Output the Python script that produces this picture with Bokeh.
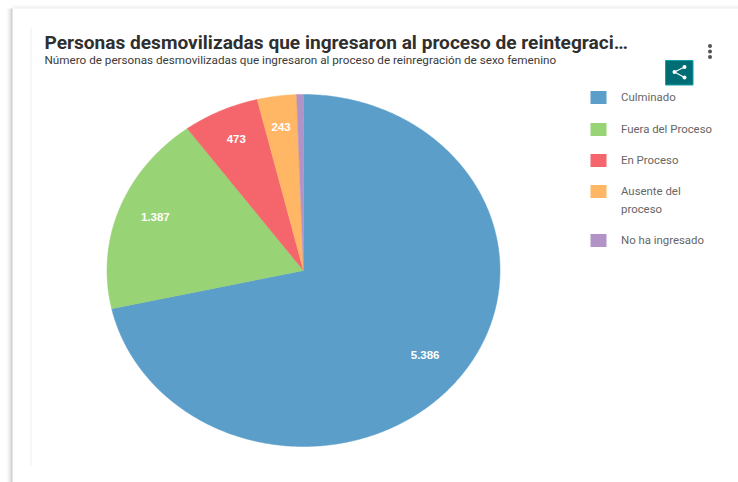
import math
from bokeh.plotting import figure
from bokeh.embed import file_html
from bokeh.resources import INLINE
from bokeh.core.properties import value

categories = ["Culminado", "Fuera del Proceso", "En Proceso", "Ausente del proceso", "No ha ingresado"]
values = [5386, 1387, 473, 243, 42]
labels = ["5.386", "1.387", "473", "243", ""]
colors = ["#5b9ec9", "#98d375", "#f4666b", "#ffb765", "#b293c8"]
legend_lines = [["Culminado"], ["Fuera del Proceso"], ["En Proceso"], ["Ausente del", "proceso"], ["No ha ingresado"]]
legend_y = [97, 129, 160, 191, 240]
title = "Personas desmovilizadas que ingresaron al proceso de reintegraci…"
subtitle = "Número de personas desmovilizadas que ingresaron al proceso de reinregración de sexo femenino"

W, H = 738, 482
p = figure(width=W, height=H, x_range=(0, W), y_range=(H, 0),
           output_backend="svg", toolbar_location=None, min_border=0,
           x_axis_type="linear", background_fill_color="white", border_fill_color="white")
p.axis.visible = False
p.grid.visible = False
p.outline_line_color = None

# card shadow
for i, a in enumerate([0.02, 0.03, 0.04, 0.05, 0.07, 0.10]):
    p.quad(left=[6 + i], right=[12], top=[8], bottom=[482], fill_color="#555555", fill_alpha=a, line_color=None)
for i, a in enumerate([0.015, 0.02, 0.025, 0.03]):
    p.quad(left=[12], right=[738], top=[4 + i], bottom=[8], fill_color="#555555", fill_alpha=a, line_color=None)
p.segment(x0=[30.5], y0=[27], x1=[30.5], y1=[465], line_color="#eeeeee", line_width=1)

# pie
cx, cy, rx, ry = 303, 270, 196.5, 176
total = sum(values)
start = 0.0
for v, c, lab in zip(values, colors, labels):
    end = start + v / total * 2 * math.pi
    n = max(int((end - start) * 90), 3)
    th = [start + (end - start) * k / n for k in range(n + 1)]
    xs = [cx] + [cx + rx * math.sin(t) for t in th]
    ys = [cy] + [cy - ry * math.cos(t) for t in th]
    p.patch(xs, ys, fill_color=c, line_color=c, line_width=0.5)
    mid = (start + end) / 2
    if lab:
        p.text([cx - 1 + 0.8 * rx * math.sin(mid)], [cy - 4 - 0.8 * ry * math.cos(mid)], text=[lab],
               text_font=value("Liberation Sans"), text_font_size="11.5px", text_font_style="bold",
               text_color="white", text_align="center", text_baseline="middle")
    start = end

# titles
p.text([44], [41.5], text=[title], text_font=value("Roboto"), text_font_size="19.1px", text_font_style="bold",
       text_color="#2f2f2f", text_align="left", text_baseline="middle")
p.text([44], [59], text=[subtitle], text_font=value("Roboto"), text_font_size="11.7px",
       text_color="#3a3a3a", text_align="left", text_baseline="middle")

# legend
for lines, c, y in zip(legend_lines, colors, legend_y):
    p.quad(left=[590], right=[606], top=[y - 6.5], bottom=[y + 6.5], fill_color=c, line_color=None)
    for j, line in enumerate(lines):
        p.text([620.5], [y - 0.5 + j * 18], text=[line], text_font=value("Roboto"), text_font_size="11.4px",
               text_color="#666666", text_align="left", text_baseline="middle")

# share button and menu
p.quad(left=[665], right=[692.5], top=[60], bottom=[84.5], fill_color="#006d75", line_color="#12a0a8", line_width=1)
p.segment(x0=[684, 684], y0=[66.5, 77], x1=[674, 674], y1=[71.5, 71.5], line_color="white", line_width=1.2)
p.scatter([684, 684, 674], [66.5, 77, 71.5], size=4, fill_color="white", line_color=None)
p.scatter([709.5, 709.5, 709.5], [45.5, 51, 56.5], size=4, fill_color="#555555", line_color=None)

open("out.html", "w").write(file_html(p, INLINE))
